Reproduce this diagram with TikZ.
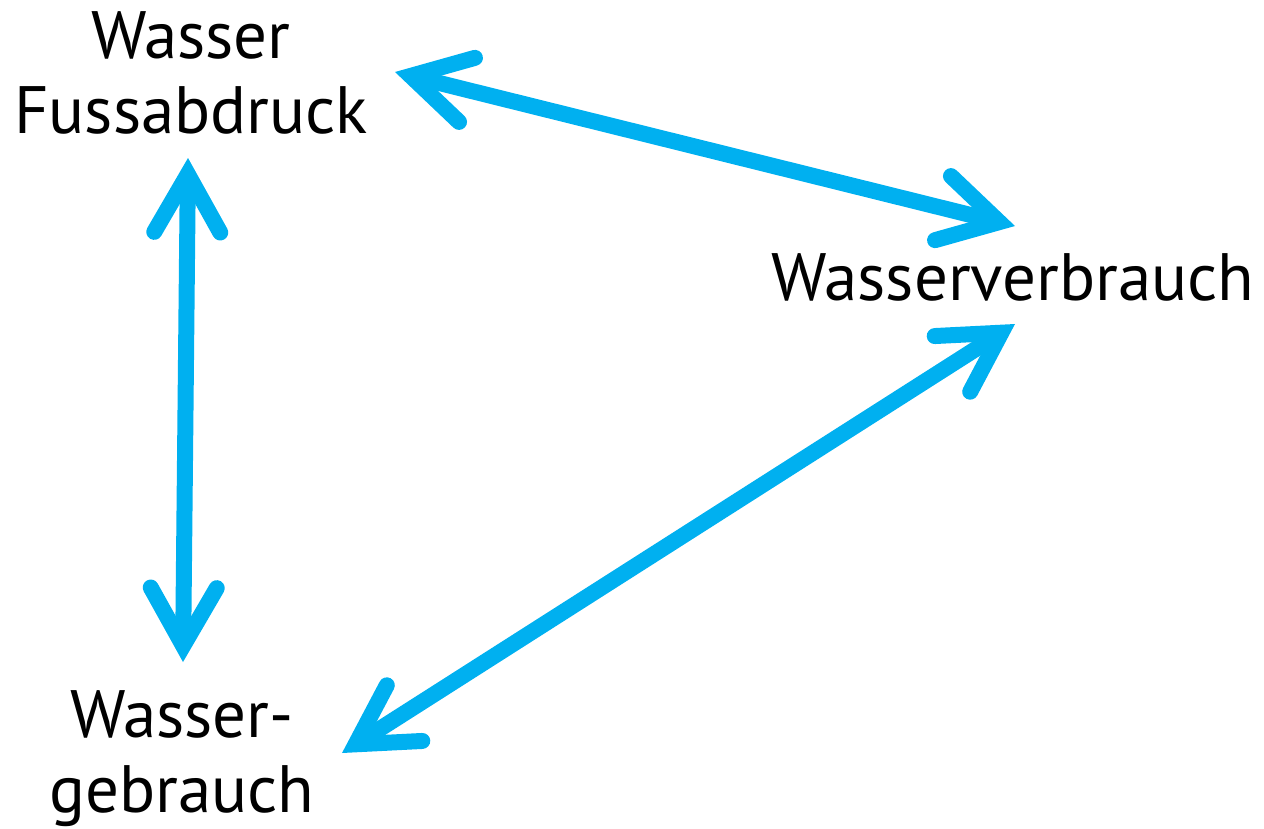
\documentclass[tikz,border=0pt]{standalone}
\usepackage{fontspec}
\setmainfont{PT Sans}
\usetikzlibrary{arrows.meta}
\definecolor{cblue}{RGB}{0,176,240}
\tikzset{
  lbl/.style={font=\fontsize{67}{75}\selectfont, inner sep=0pt, align=center, anchor=base, text=black},
  link/.style={draw=cblue, line width=16pt,
    {Straight Barb[length=58pt,width=66pt,line join=miter,line cap=round]}-{Straight Barb[length=58pt,width=66pt,line join=miter,line cap=round]}}
}
\begin{document}
\begin{tikzpicture}[x=1pt,y=-1pt]
\useasboundingbox (0,0) rectangle (1264,828);
\node[lbl] (fp) at (191,133) {Wasser\\Fussabdruck};
\node[lbl] (vb) at (1013,300) {Wasserverbrauch};
\node[lbl] (gb) at (182,812) {Wasser-\\gebrauch};
\coordinate (a1s) at (395,72);
\coordinate (a1e) at (1015,226);
\coordinate (a2s) at (188,158);
\coordinate (a2e) at (183,662);
\coordinate (a3s) at (1015,324);
\coordinate (a3e) at (342,753);
\draw[link] (a1s) -- (a1e);
\draw[link] (a2s) -- (a2e);
\draw[link] (a3s) -- (a3e);
\end{tikzpicture}
\end{document}
